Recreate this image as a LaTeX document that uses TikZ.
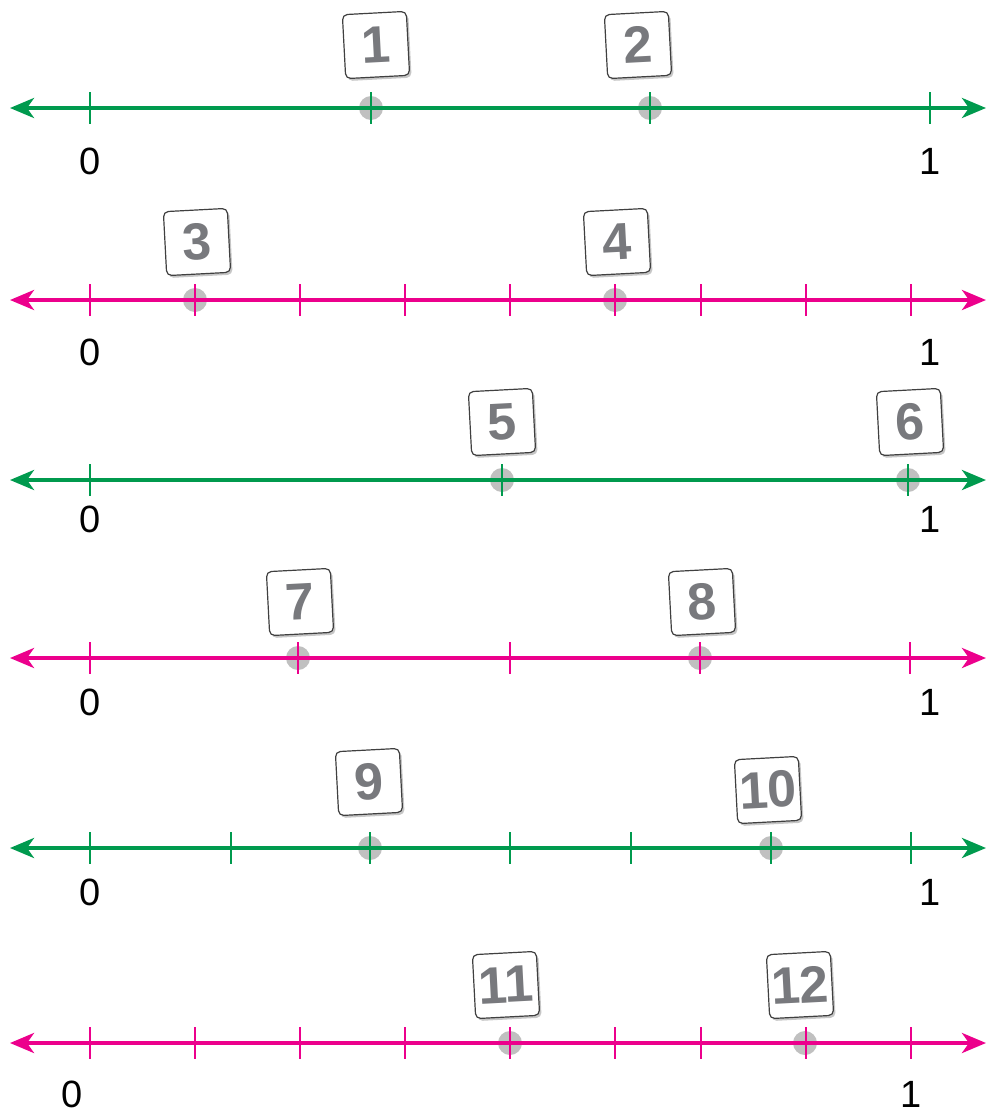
\documentclass[tikz,border=0pt]{standalone}
\usepackage{fontspec}
\setmainfont{Liberation Sans}
\usepackage{tikz}
\usetikzlibrary{arrows.meta,shadows}
\definecolor{nlgreen}{RGB}{0,154,78}
\definecolor{nlpink}{RGB}{236,0,140}
\definecolor{cardgray}{RGB}{120,121,125}
\definecolor{dotgray}{RGB}{192,192,192}
\newcommand{\nlfont}{\fontsize{19}{19}\selectfont}
\newcommand{\cardfont}{\fontsize{26}{26}\bfseries\selectfont}

\begin{document}
\begin{tikzpicture}[x=0.5pt, y=-0.5pt,
  numline/.style={line width=2pt, {Stealth[length=12pt,width=10pt,inset=3.5pt]}-{Stealth[length=12pt,width=10pt,inset=3.5pt]}},
  nltick/.style={line width=1pt},
  endlabel/.style={inner sep=0pt, font=\nlfont},
  dot/.style={circle, fill=dotgray, minimum size=12pt, inner sep=0pt},
  card/.style={draw=black!75, line width=0.6pt, fill=white, rounded corners=2.5pt, minimum width=32pt, minimum height=32pt, inner sep=0pt, rotate=3, text=cardgray, font=\cardfont, drop shadow={shadow xshift=1pt, shadow yshift=-1.2pt, opacity=0.45}}]
\useasboundingbox (0,0) rectangle (987,1114);
% thirds
\node[dot] (p1) at (371,108) {};
\node[dot] (p2) at (650,108) {};
\coordinate (w1) at (10,108);
\coordinate (e1) at (986,108);
\draw[numline, nlgreen] (w1) -- (e1);
\foreach \t in {90,371,650,930} \draw[nltick, nlgreen] (\t,92) -- (\t,124);
\node[endlabel] (z1) at (90,161) {0};
\node[endlabel] (o1) at (930,161) {1};
\node[card] (c1) at (376,45) {1};
\node[card] (c2) at (638,45) {2};
% eighths
\node[dot] (p3) at (195,300) {};
\node[dot] (p4) at (615,300) {};
\coordinate (w2) at (10,300);
\coordinate (e2) at (986,300);
\draw[numline, nlpink] (w2) -- (e2);
\foreach \t in {90,195,300,405,510,615,701,806,911} \draw[nltick, nlpink] (\t,284) -- (\t,316);
\node[endlabel] (z2) at (90,352) {0};
\node[endlabel] (o2) at (930,352) {1};
\node[card] (c3) at (197,242) {3};
\node[card] (c4) at (617,242) {4};
% halves
\node[dot] (p5) at (502,480) {};
\node[dot] (p6) at (908,480) {};
\coordinate (w3) at (10,480);
\coordinate (e3) at (986,480);
\draw[numline, nlgreen] (w3) -- (e3);
\foreach \t in {90,502,908} \draw[nltick, nlgreen] (\t,464) -- (\t,496);
\node[endlabel] (z3) at (90,519) {0};
\node[endlabel] (o3) at (930,519) {1};
\node[card] (c5) at (502,422) {5};
\node[card] (c6) at (910,422) {6};
% quarters
\node[dot] (p7) at (298,658) {};
\node[dot] (p8) at (700,658) {};
\coordinate (w4) at (10,658);
\coordinate (e4) at (986,658);
\draw[numline, nlpink] (w4) -- (e4);
\foreach \t in {90,298,510,700,910} \draw[nltick, nlpink] (\t,642) -- (\t,674);
\node[endlabel] (z4) at (90,702) {0};
\node[endlabel] (o4) at (930,702) {1};
\node[card] (c7) at (300,602) {7};
\node[card] (c8) at (702,602) {8};
% sixths
\node[dot] (p9) at (370,848) {};
\node[dot] (p10) at (771,848) {};
\coordinate (w5) at (10,848);
\coordinate (e5) at (986,848);
\draw[numline, nlgreen] (w5) -- (e5);
\foreach \t in {90,231,370,510,631,771,911} \draw[nltick, nlgreen] (\t,832) -- (\t,864);
\node[endlabel] (z5) at (90,892) {0};
\node[endlabel] (o5) at (930,892) {1};
\node[card] (c9) at (369,782) {9};
\node[card] (c10) at (768,790) {10};
% eighths again
\node[dot] (p11) at (510,1043) {};
\node[dot] (p12) at (805,1043) {};
\coordinate (w6) at (10,1043);
\coordinate (e6) at (986,1043);
\draw[numline, nlpink] (w6) -- (e6);
\foreach \t in {90,195,300,405,510,615,701,806,911} \draw[nltick, nlpink] (\t,1027) -- (\t,1059);
\node[endlabel] (z6) at (72,1094) {0};
\node[endlabel] (o6) at (911,1094) {1};
\node[card] (c11) at (506,985) {11};
\node[card] (c12) at (800,985) {12};
\end{tikzpicture}
\end{document}
